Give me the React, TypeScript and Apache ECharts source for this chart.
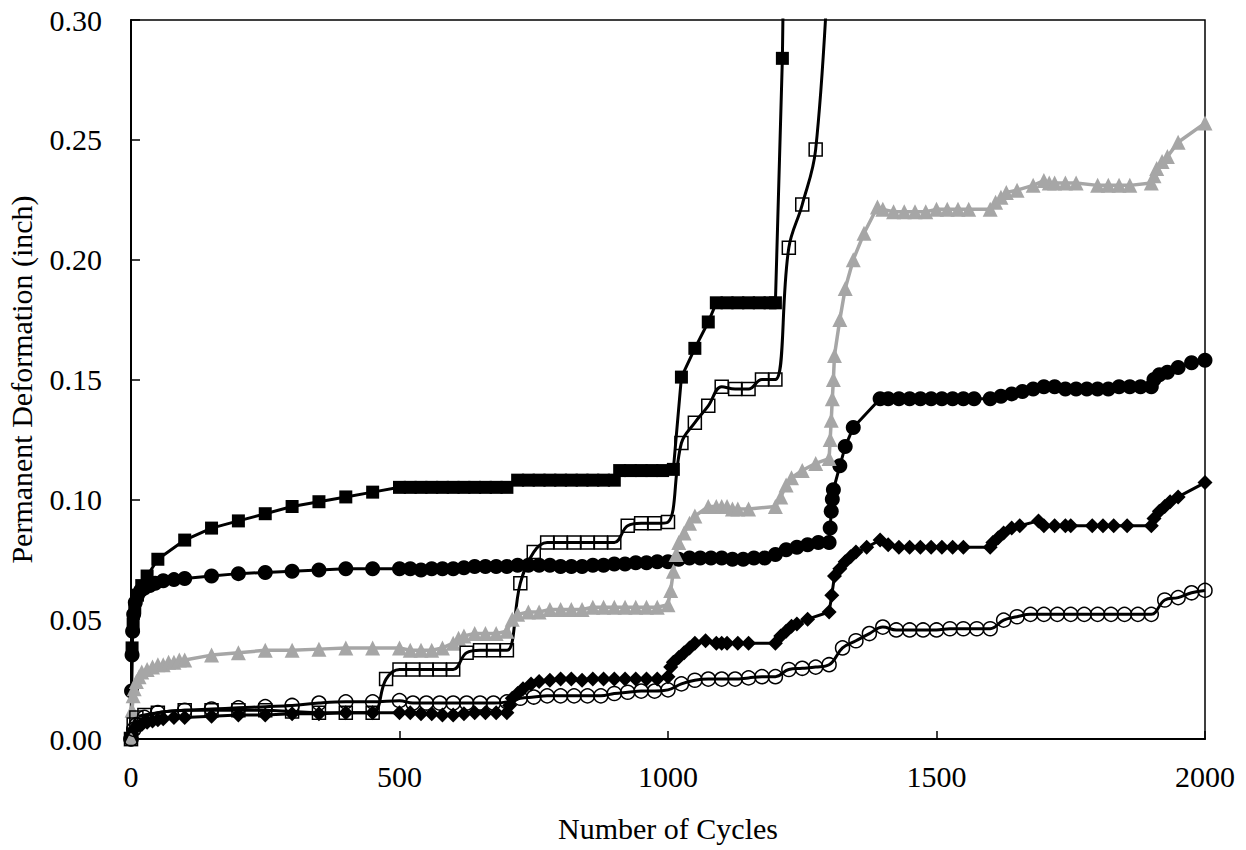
import React, { useEffect, useRef } from "react";
import * as echarts from "echarts";

const xTicks = [0, 500, 1000, 1500, 2000];
const yTicks = [0, 0.05, 0.1, 0.15, 0.2, 0.25, 0.3];
const xTitle = "Number of Cycles";
const yTitle = "Permanent Deformation (inch)";

const filledSquares: [number, number][] = [
  [0, 0], [2, 0.038], [4, 0.048], [7, 0.055], [12, 0.06], [20, 0.064], [30, 0.068], [50, 0.075],
  [100, 0.083], [150, 0.088], [200, 0.091], [250, 0.094], [300, 0.097], [350, 0.099], [400, 0.101],
  [450, 0.103], [500, 0.105], [520, 0.105], [540, 0.105], [560, 0.105], [580, 0.105], [600, 0.105],
  [620, 0.105], [640, 0.105], [660, 0.105], [680, 0.105], [700, 0.105], [720, 0.108], [740, 0.108],
  [760, 0.108], [780, 0.108], [800, 0.108], [820, 0.108], [840, 0.108], [860, 0.108], [880, 0.108],
  [900, 0.108], [910, 0.112], [930, 0.112], [950, 0.112], [970, 0.112], [990, 0.112], [1010, 0.1125],
  [1025, 0.151], [1050, 0.163], [1075, 0.174], [1090, 0.182], [1110, 0.182], [1130, 0.182],
  [1150, 0.182], [1170, 0.182], [1190, 0.182], [1200, 0.182], [1213, 0.284], [1220, 0.4],
];

const openSquares: [number, number][] = [
  [0, 0], [5, 0.006], [10, 0.009], [25, 0.01], [50, 0.011], [100, 0.012], [150, 0.012], [200, 0.012],
  [250, 0.012], [300, 0.0115], [350, 0.011], [400, 0.011], [450, 0.011], [475, 0.025], [500, 0.029],
  [525, 0.029], [550, 0.029], [575, 0.029], [600, 0.029], [625, 0.036], [650, 0.037], [675, 0.037],
  [700, 0.037], [725, 0.065], [750, 0.078], [775, 0.082], [800, 0.082], [825, 0.082], [850, 0.082],
  [875, 0.082], [900, 0.082], [925, 0.089], [950, 0.09], [975, 0.09], [1000, 0.0905], [1025, 0.1235],
  [1050, 0.132], [1075, 0.139], [1100, 0.147], [1125, 0.146], [1150, 0.146], [1175, 0.15], [1200, 0.15],
  [1225, 0.205], [1250, 0.223], [1275, 0.246], [1300, 0.33],
];

const grayTriangles: [number, number][] = [
  [0, 0], [2, 0.012], [4, 0.018], [6, 0.021], [10, 0.024], [15, 0.026], [20, 0.028], [30, 0.029],
  [40, 0.03], [50, 0.031], [60, 0.031], [70, 0.032], [80, 0.032], [90, 0.033], [100, 0.033],
  [150, 0.035], [200, 0.036], [250, 0.037], [300, 0.037], [350, 0.0375], [400, 0.038], [450, 0.038],
  [500, 0.038], [520, 0.037], [540, 0.037], [560, 0.037], [580, 0.038], [600, 0.04], [610, 0.042],
  [620, 0.043], [640, 0.044], [660, 0.044], [680, 0.044], [700, 0.045], [710, 0.05], [720, 0.052],
  [740, 0.053], [760, 0.053], [780, 0.054], [800, 0.054], [820, 0.054], [840, 0.054], [860, 0.055],
  [880, 0.055], [900, 0.055], [920, 0.055], [940, 0.055], [960, 0.055], [980, 0.055], [1000, 0.056],
  [1005, 0.062], [1010, 0.07], [1015, 0.077], [1020, 0.082], [1030, 0.086], [1040, 0.09], [1050, 0.093],
  [1075, 0.097], [1090, 0.097], [1100, 0.097], [1110, 0.097], [1120, 0.096], [1130, 0.096],
  [1150, 0.096], [1200, 0.097], [1210, 0.101], [1220, 0.106], [1230, 0.109], [1250, 0.112],
  [1275, 0.115], [1300, 0.117], [1302, 0.125], [1304, 0.133], [1306, 0.142], [1308, 0.15],
  [1310, 0.16], [1320, 0.175], [1330, 0.188], [1345, 0.2], [1365, 0.211], [1390, 0.222],
  [1400, 0.221], [1420, 0.22], [1440, 0.22], [1460, 0.22], [1480, 0.22], [1500, 0.221], [1520, 0.221],
  [1540, 0.221], [1560, 0.221], [1600, 0.221], [1610, 0.224], [1620, 0.226], [1630, 0.228],
  [1650, 0.229], [1680, 0.231], [1700, 0.233], [1710, 0.232], [1720, 0.232], [1740, 0.232],
  [1760, 0.232], [1800, 0.231], [1820, 0.231], [1840, 0.231], [1860, 0.231], [1900, 0.232],
  [1905, 0.235], [1910, 0.238], [1920, 0.241], [1930, 0.243], [1950, 0.249], [2000, 0.257],
];

const filledCircles: [number, number][] = [
  [0, 0], [1, 0.02], [2, 0.035], [3, 0.045], [5, 0.052], [8, 0.057], [12, 0.06], [18, 0.062],
  [25, 0.063], [35, 0.064], [45, 0.065], [60, 0.066], [80, 0.0665], [100, 0.067], [150, 0.068],
  [200, 0.069], [250, 0.0695], [300, 0.07], [350, 0.0705], [400, 0.071], [450, 0.071], [500, 0.071],
  [520, 0.071], [540, 0.0705], [560, 0.071], [580, 0.071], [600, 0.071], [620, 0.0715], [640, 0.072],
  [660, 0.072], [680, 0.072], [700, 0.072], [720, 0.0725], [740, 0.0725], [760, 0.0725], [780, 0.0725],
  [800, 0.072], [820, 0.072], [840, 0.072], [860, 0.0725], [880, 0.0725], [900, 0.073], [920, 0.073],
  [940, 0.0735], [960, 0.0735], [980, 0.074], [1000, 0.074], [1020, 0.075], [1040, 0.0755],
  [1060, 0.0755], [1080, 0.0755], [1100, 0.0755], [1120, 0.075], [1140, 0.075], [1160, 0.0755],
  [1180, 0.0755], [1200, 0.077], [1220, 0.079], [1240, 0.08], [1260, 0.081], [1280, 0.082],
  [1300, 0.082], [1302, 0.088], [1304, 0.095], [1306, 0.1], [1308, 0.104], [1320, 0.114],
  [1330, 0.122], [1345, 0.13], [1395, 0.142], [1410, 0.142], [1430, 0.142], [1450, 0.142],
  [1470, 0.142], [1490, 0.142], [1510, 0.142], [1530, 0.142], [1550, 0.142], [1570, 0.142],
  [1600, 0.142], [1620, 0.143], [1640, 0.144], [1660, 0.145], [1680, 0.146], [1700, 0.147],
  [1720, 0.147], [1740, 0.146], [1760, 0.146], [1780, 0.146], [1800, 0.146], [1820, 0.146],
  [1840, 0.147], [1860, 0.147], [1880, 0.147], [1900, 0.147], [1905, 0.15], [1915, 0.152],
  [1930, 0.153], [1950, 0.155], [1975, 0.157], [2000, 0.158],
];

const filledDiamonds: [number, number][] = [
  [0, 0], [2, 0.002], [5, 0.004], [10, 0.005], [20, 0.006], [30, 0.007], [40, 0.0075], [50, 0.008],
  [60, 0.0085], [80, 0.009], [100, 0.009], [150, 0.0095], [200, 0.01], [250, 0.01], [300, 0.0105],
  [350, 0.0105], [400, 0.011], [450, 0.011], [500, 0.011], [520, 0.011], [540, 0.0105], [560, 0.0105],
  [580, 0.01], [600, 0.01], [620, 0.0105], [640, 0.011], [660, 0.011], [680, 0.011], [700, 0.011],
  [705, 0.014], [710, 0.017], [720, 0.019], [730, 0.021], [745, 0.023], [760, 0.024], [780, 0.0245],
  [800, 0.025], [820, 0.025], [840, 0.0245], [860, 0.025], [880, 0.025], [900, 0.025], [920, 0.025],
  [940, 0.025], [960, 0.025], [980, 0.025], [1000, 0.026], [1005, 0.03], [1010, 0.032], [1020, 0.034],
  [1030, 0.036], [1040, 0.038], [1050, 0.04], [1070, 0.041], [1090, 0.04], [1100, 0.04], [1110, 0.04],
  [1130, 0.04], [1150, 0.04], [1200, 0.04], [1210, 0.043], [1220, 0.045], [1230, 0.047], [1240, 0.048],
  [1260, 0.05], [1300, 0.053], [1305, 0.06], [1310, 0.068], [1320, 0.071], [1330, 0.074], [1340, 0.076],
  [1350, 0.078], [1370, 0.08], [1395, 0.083], [1410, 0.081], [1430, 0.08], [1450, 0.08], [1470, 0.08],
  [1490, 0.08], [1510, 0.08], [1530, 0.08], [1550, 0.08], [1600, 0.08], [1605, 0.082], [1615, 0.084],
  [1625, 0.086], [1640, 0.088], [1655, 0.089], [1690, 0.091], [1700, 0.089], [1720, 0.089],
  [1740, 0.089], [1750, 0.089], [1790, 0.089], [1810, 0.089], [1830, 0.089], [1855, 0.089],
  [1900, 0.089], [1905, 0.092], [1915, 0.095], [1925, 0.097], [1935, 0.099], [1950, 0.101],
  [2000, 0.107],
];

const openCircles: [number, number][] = [
  [0, 0], [5, 0.004], [10, 0.006], [25, 0.009], [50, 0.011], [100, 0.012], [150, 0.0125], [200, 0.013],
  [250, 0.0135], [300, 0.014], [350, 0.015], [400, 0.0155], [450, 0.0155], [500, 0.016], [525, 0.015],
  [550, 0.015], [575, 0.015], [600, 0.015], [625, 0.015], [650, 0.015], [675, 0.015], [700, 0.0155],
  [725, 0.017], [750, 0.0175], [775, 0.018], [800, 0.018], [825, 0.018], [850, 0.018], [875, 0.018],
  [900, 0.019], [925, 0.0195], [950, 0.02], [975, 0.02], [1000, 0.0205], [1025, 0.023], [1050, 0.0245],
  [1075, 0.025], [1100, 0.025], [1125, 0.025], [1150, 0.0255], [1175, 0.026], [1200, 0.026],
  [1225, 0.029], [1250, 0.0295], [1275, 0.03], [1300, 0.031], [1325, 0.038], [1350, 0.041],
  [1375, 0.044], [1400, 0.0467], [1425, 0.0455], [1450, 0.0455], [1475, 0.0455], [1500, 0.0455],
  [1525, 0.046], [1550, 0.046], [1575, 0.046], [1600, 0.046], [1625, 0.0496], [1650, 0.051],
  [1675, 0.052], [1700, 0.052], [1725, 0.052], [1750, 0.052], [1775, 0.052], [1800, 0.052],
  [1825, 0.052], [1850, 0.052], [1875, 0.052], [1900, 0.052], [1925, 0.058], [1950, 0.059],
  [1975, 0.061], [2000, 0.062],
];

const FONT = "'Liberation Serif', 'Times New Roman', serif";

export default function App() {
  const ref = useRef<HTMLDivElement>(null);
  useEffect(() => {
    if (!ref.current) return;
    const chart = echarts.init(ref.current, undefined, { renderer: "svg" });
    const base = { type: "line", animation: false } as any;
    chart.setOption({
      animation: false,
      backgroundColor: "#fff",
      grid: {
        left: 131, right: 41, top: 20, bottom: 111, show: true, borderColor: "#000", borderWidth: 1.5,
        containLabel: false, outerBoundsMode: "none",
      },
      xAxis: {
        type: "value", min: xTicks[0], max: xTicks[xTicks.length - 1], interval: 500,
        name: xTitle, nameLocation: "middle", nameGap: 74,
        nameTextStyle: { fontFamily: FONT, fontSize: 30, color: "#000" },
        axisLine: { lineStyle: { color: "#000", width: 2 } },
        axisTick: { inside: true, length: 8, lineStyle: { color: "#000", width: 1.5 } },
        axisLabel: { fontFamily: FONT, fontSize: 30, color: "#000", margin: 22, formatter: (v: number) => String(v) },
        splitLine: { show: false },
      },
      yAxis: {
        type: "value", min: yTicks[0], max: yTicks[yTicks.length - 1], interval: 0.05,
        name: yTitle, nameLocation: "middle", nameGap: 95, nameRotate: 90,
        nameTextStyle: { fontFamily: FONT, fontSize: 30, color: "#000" },
        axisLine: { lineStyle: { color: "#000", width: 2 } },
        axisTick: { inside: true, length: 9, lineStyle: { color: "#000", width: 1.5 } },
        axisLabel: { fontFamily: FONT, fontSize: 30, color: "#000", margin: 29, formatter: (v: number) => v.toFixed(2) },
        splitLine: { show: false },
      },
      series: [
        { ...base, name: "A", data: filledSquares, symbol: "rect", symbolSize: 13,
          itemStyle: { color: "#000" }, lineStyle: { color: "#000", width: 3 } },
        { ...base, name: "D", data: filledCircles, symbol: "circle", symbolSize: 15,
          itemStyle: { color: "#000" }, lineStyle: { color: "#000", width: 3 } },
        { ...base, name: "E", data: filledDiamonds, symbol: "diamond", symbolSize: 15,
          itemStyle: { color: "#000" }, lineStyle: { color: "#000", width: 3 } },
        { ...base, name: "C", data: grayTriangles, symbol: "triangle", symbolSize: 15,
          itemStyle: { color: "#A6A6A6" }, lineStyle: { color: "#A6A6A6", width: 3.5 } },
        { ...base, name: "B", data: openSquares, symbol: "rect", symbolSize: 13, smooth: 0.4,
          itemStyle: { color: "rgba(0,0,0,0)", borderColor: "#000", borderWidth: 1.5 },
          lineStyle: { color: "#000", width: 3 } },
        { ...base, name: "F", data: openCircles, symbol: "circle", symbolSize: 14, smooth: 0.4,
          itemStyle: { color: "rgba(0,0,0,0)", borderColor: "#000", borderWidth: 1.5 },
          lineStyle: { color: "#000", width: 3 } },
      ],
    });
    return () => chart.dispose();
  }, []);
  return <div ref={ref} style={{ position: "fixed", left: 0, top: 0, width: 1246, height: 850 }} />;
}
